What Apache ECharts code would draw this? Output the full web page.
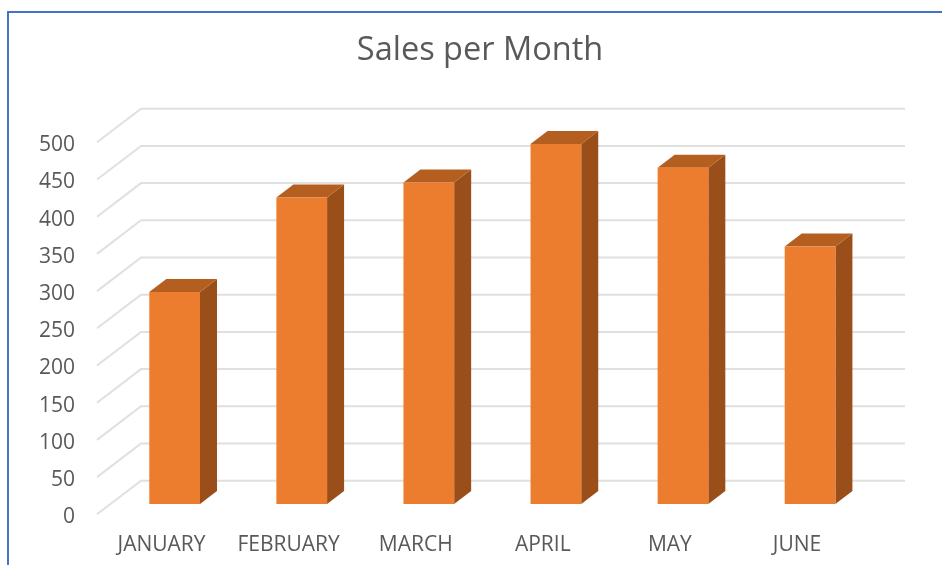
<!DOCTYPE html>
<html>
<head>
<meta charset="utf-8">
<style>
  html, body { margin: 0; padding: 0; background: #fff; }
  #main { width: 942px; height: 565px; }
</style>
<script src="https://cdn.jsdelivr.net/npm/echarts@6/dist/echarts.min.js"></script>
</head>
<body>
<div id="main"></div>
<script>
const months = ['JANUARY', 'FEBRUARY', 'MARCH', 'APRIL', 'MAY', 'JUNE'];
const sales = [285, 412, 432, 484, 452, 346];
const yTicks = [0, 50, 100, 150, 200, 250, 300, 350, 400, 450, 500];

const font = '"Open Sans", sans-serif';
const depth = [44, -33.6];      // front of the floor to the back wall
const barShift = [13.1, -10.3]; // front of the floor to the bar's front face
const barDepth = [17, -13];
const barRatio = 0.399;

function renderWall(params, api) {
  const sys = params.coordSys;
  const y = api.coord([0, api.value(1)])[1];
  const style = { stroke: '#e0e0e0', lineWidth: 2, fill: null };
  return {
    type: 'polyline',
    shape: { points: [
      [sys.x - 1, y],
      [sys.x - 1 + depth[0], y + depth[1]],
      [sys.x + sys.width + depth[0] + 0.5, y + depth[1]]
    ] },
    style: style
  };
}

function renderBar(params, api) {
  const top = api.coord([api.value(0), api.value(1)]);
  const base = api.coord([api.value(0), 0]);
  const w = api.size([1, 0])[0] * barRatio;
  const x0 = top[0] - w / 2 + barShift[0];
  const x1 = x0 + w;
  const y0 = top[1] + barShift[1];
  const y1 = base[1] + barShift[1];
  const dx = barDepth[0];
  const dy = barDepth[1];
  return {
    type: 'group',
    children: [
      { type: 'polygon', shape: { points: [[x1, y0], [x1 + dx, y0 + dy], [x1 + dx, y1 + dy], [x1, y1]] },
        style: { fill: '#9a4f1b' } },
      { type: 'polygon', shape: { points: [[x0, y0], [x0 + dx, y0 + dy], [x1 + dx, y0 + dy], [x1, y0]] },
        style: { fill: '#b45e20' } },
      { type: 'rect', shape: { x: x0, y: y0, width: w, height: y1 - y0 },
        style: { fill: '#ed7d2e' } }
    ]
  };
}

const chart = echarts.init(document.getElementById('main'));
chart.setOption({
  animation: false,
  backgroundColor: '#fff',
  title: {
    text: 'Sales per Month',
    left: 475,
    top: 29,
    textAlign: 'center',
    textStyle: { fontFamily: font, fontSize: 32.5, fontWeight: 'normal', color: '#595959' }
  },
  graphic: [{
    type: 'rect',
    silent: true,
    shape: { x: 8, y: 12, width: 1000, height: 700 },
    style: { fill: null, stroke: '#4472c4', lineWidth: 2 }
  }],
  grid: { left: 98, top: 142.3, width: 762.5, height: 372 },
  xAxis: {
    type: 'category',
    data: months,
    axisLine: { show: false },
    axisTick: { show: false },
    axisLabel: { interval: 0, margin: 20, fontFamily: font, fontSize: 21, color: '#595959' }
  },
  yAxis: {
    type: 'value',
    min: 0,
    max: 500,
    interval: 50,
    axisLine: { show: false },
    axisTick: { show: false },
    splitLine: { show: false },
    axisLabel: {
      margin: 23,
      formatter: '{v|{value}}',
      rich: {
        v: { padding: [6, 0, 0, 0], fontFamily: font, fontSize: 21, color: '#595959' }
      }
    }
  },
  series: [
    {
      type: 'custom',
      name: 'wall',
      silent: true,
      clip: false,
      z: 1,
      renderItem: renderWall,
      data: yTicks.map(function (t) { return [0, t]; })
    },
    {
      type: 'custom',
      name: 'Sales',
      clip: false,
      z: 2,
      renderItem: renderBar,
      data: sales.map(function (v, i) { return [i, v]; })
    }
  ]
});
</script>
</body>
</html>
